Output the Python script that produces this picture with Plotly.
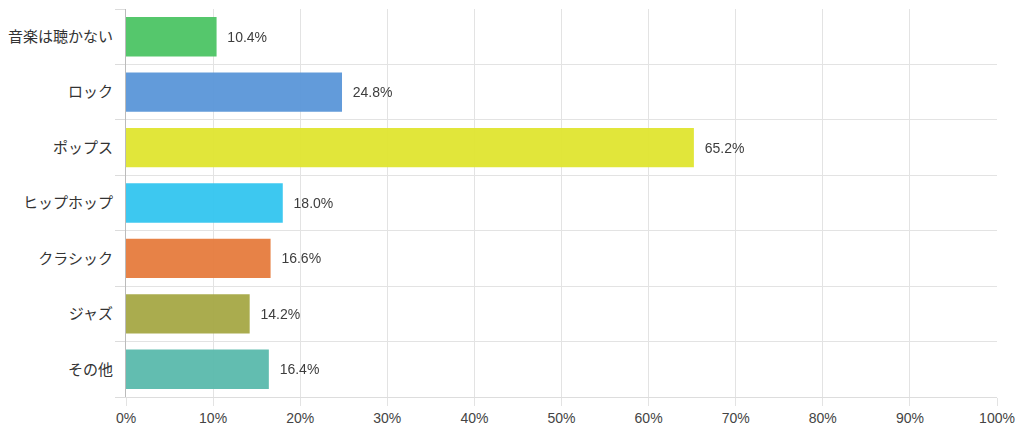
import plotly.graph_objects as go

categories = ["音楽は聴かない", "ロック", "ポップス", "ヒップホップ", "クラシック", "ジャズ", "その他"]
values = [10.4, 24.8, 65.2, 18.0, 16.6, 14.2, 16.4]
colors = ["#4cc565", "#5a96d8", "#e0e530", "#33c6f0", "#e67c3e", "#a6a845", "#5abaac"]
x_ticks = list(range(0, 101, 10))
x_tick_labels = [f"{v}%" for v in x_ticks]

fig = go.Figure(go.Bar(
    x=values,
    y=categories,
    orientation="h",
    marker=dict(color=colors, line=dict(width=0)),
    opacity=0.95,
    texttemplate="\u00a0\u00a0%{x:.1f}%",
    textposition="outside",
    textfont=dict(family="Liberation Sans, Arial, sans-serif", size=14, color="#333333"),
    cliponaxis=False,
    hoverinfo="skip",
))

fig.update_layout(
    width=1016, height=425,
    margin=dict(l=118, r=27, t=1, b=36),
    paper_bgcolor="white",
    plot_bgcolor="white",
    bargap=0.29,
    showlegend=False,
    font=dict(family="Liberation Sans, Noto Sans CJK JP, sans-serif", color="#444444"),
    xaxis=dict(
        range=[0, 100],
        tickvals=x_ticks,
        ticktext=x_tick_labels,
        showgrid=True, gridcolor="#e3e3e3", gridwidth=1,
        zeroline=False,
        showline=True, linecolor="#dddddd", linewidth=1,
        ticks="outside", ticklen=8, tickcolor="#e3e3e3",
        tickfont=dict(size=14, color="#444444"),
        fixedrange=True,
    ),
    yaxis=dict(
        categoryorder="array",
        categoryarray=categories[::-1],
        tickson="boundaries",
        showgrid=True, gridcolor="#e3e3e3", gridwidth=1,
        zeroline=False,
        showline=True, linecolor="#bbbbbb", linewidth=1,
        ticks="outside", ticklen=10, tickcolor="#dcdcdc",
        tickfont=dict(size=15, color="#333333", family="Noto Sans CJK JP, sans-serif"),
        ticklabelstandoff=9,
        fixedrange=True,
    ),
)

fig.write_html("out.html")
